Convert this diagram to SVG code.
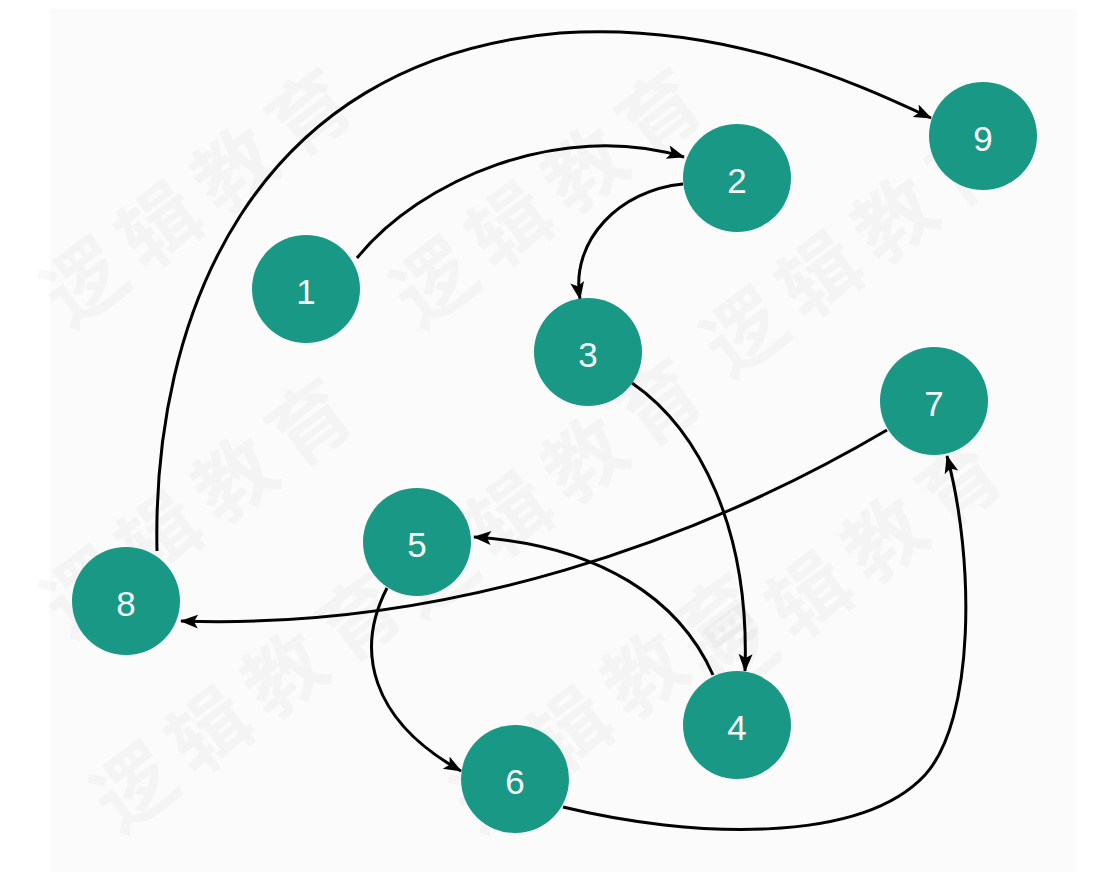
<svg xmlns="http://www.w3.org/2000/svg" width="1118" height="872" viewBox="0 0 1118 872">
<style>
.node circle{fill:#1a9886;}
.node text{fill:#f4fbf9;font-family:"Liberation Sans",Arial,sans-serif;font-size:35px;text-anchor:middle;dominant-baseline:central;}
.edge{fill:none;stroke:#000;stroke-width:3;marker-end:url(#arrow);}
.wm{fill:#000;fill-opacity:0.028;font-family:"Noto Sans CJK SC",sans-serif;font-size:80px;font-weight:bold;letter-spacing:14px;}
</style>
<defs>
<marker id="arrow" markerUnits="userSpaceOnUse" markerWidth="20" markerHeight="16" refX="17" refY="7" orient="auto">
<path d="M0,0 L18,7 L0,14 L4,7 z" fill="#000"/>
</marker>
</defs>
<rect width="1118" height="872" fill="#ffffff"/>
<rect x="50" y="9" width="1027" height="863" fill="#fbfbfb"/>
<g id="watermark">
<text class="wm" transform="translate(70,330) rotate(-37)">逻辑教育</text>
<text class="wm" transform="translate(420,330) rotate(-37)">逻辑教育</text>
<text class="wm" transform="translate(730,380) rotate(-37)">逻辑教育</text>
<text class="wm" transform="translate(70,640) rotate(-37)">逻辑教育</text>
<text class="wm" transform="translate(420,620) rotate(-37)">逻辑教育</text>
<text class="wm" transform="translate(720,700) rotate(-37)">逻辑教育</text>
<text class="wm" transform="translate(120,835) rotate(-37)">逻辑教育</text>
<text class="wm" transform="translate(480,835) rotate(-37)">逻辑教育</text>
</g>
<g id="connectors">
<path class="edge" d="M357,258 C420,180 560,120 684,157"/>
<path class="edge" d="M683,184 C620,190 570,240 580,299"/>
<path class="edge" d="M632,383 C700,430 750,530 745,671"/>
<path class="edge" d="M713,675 C680,600 600,545 474,537"/>
<path class="edge" d="M387,588 C355,650 370,720 461,771"/>
<path class="edge" d="M563,807 C690,838 860,845 925,775 C975,720 975,560 947,456"/>
<path class="edge" d="M887,430 C700,540 450,630 181,621"/>
<path class="edge" d="M157,551 C152,320 250,60 560,33 C720,22 850,80 931,118"/>
</g>
<g id="node1" class="node"><circle cx="306" cy="289" r="54"/><text x="306" y="291">1</text></g>
<g id="node2" class="node"><circle cx="737" cy="178" r="54"/><text x="737" y="180">2</text></g>
<g id="node3" class="node"><circle cx="588" cy="352" r="54"/><text x="588" y="354">3</text></g>
<g id="node4" class="node"><circle cx="737" cy="725" r="54"/><text x="737" y="727">4</text></g>
<g id="node5" class="node"><circle cx="417" cy="542" r="54"/><text x="417" y="544">5</text></g>
<g id="node6" class="node"><circle cx="515" cy="779" r="54"/><text x="515" y="781">6</text></g>
<g id="node7" class="node"><circle cx="934" cy="401" r="54"/><text x="934" y="403">7</text></g>
<g id="node8" class="node"><circle cx="126" cy="601" r="54"/><text x="126" y="603">8</text></g>
<g id="node9" class="node"><circle cx="983" cy="136" r="54"/><text x="983" y="138">9</text></g>
</svg>
